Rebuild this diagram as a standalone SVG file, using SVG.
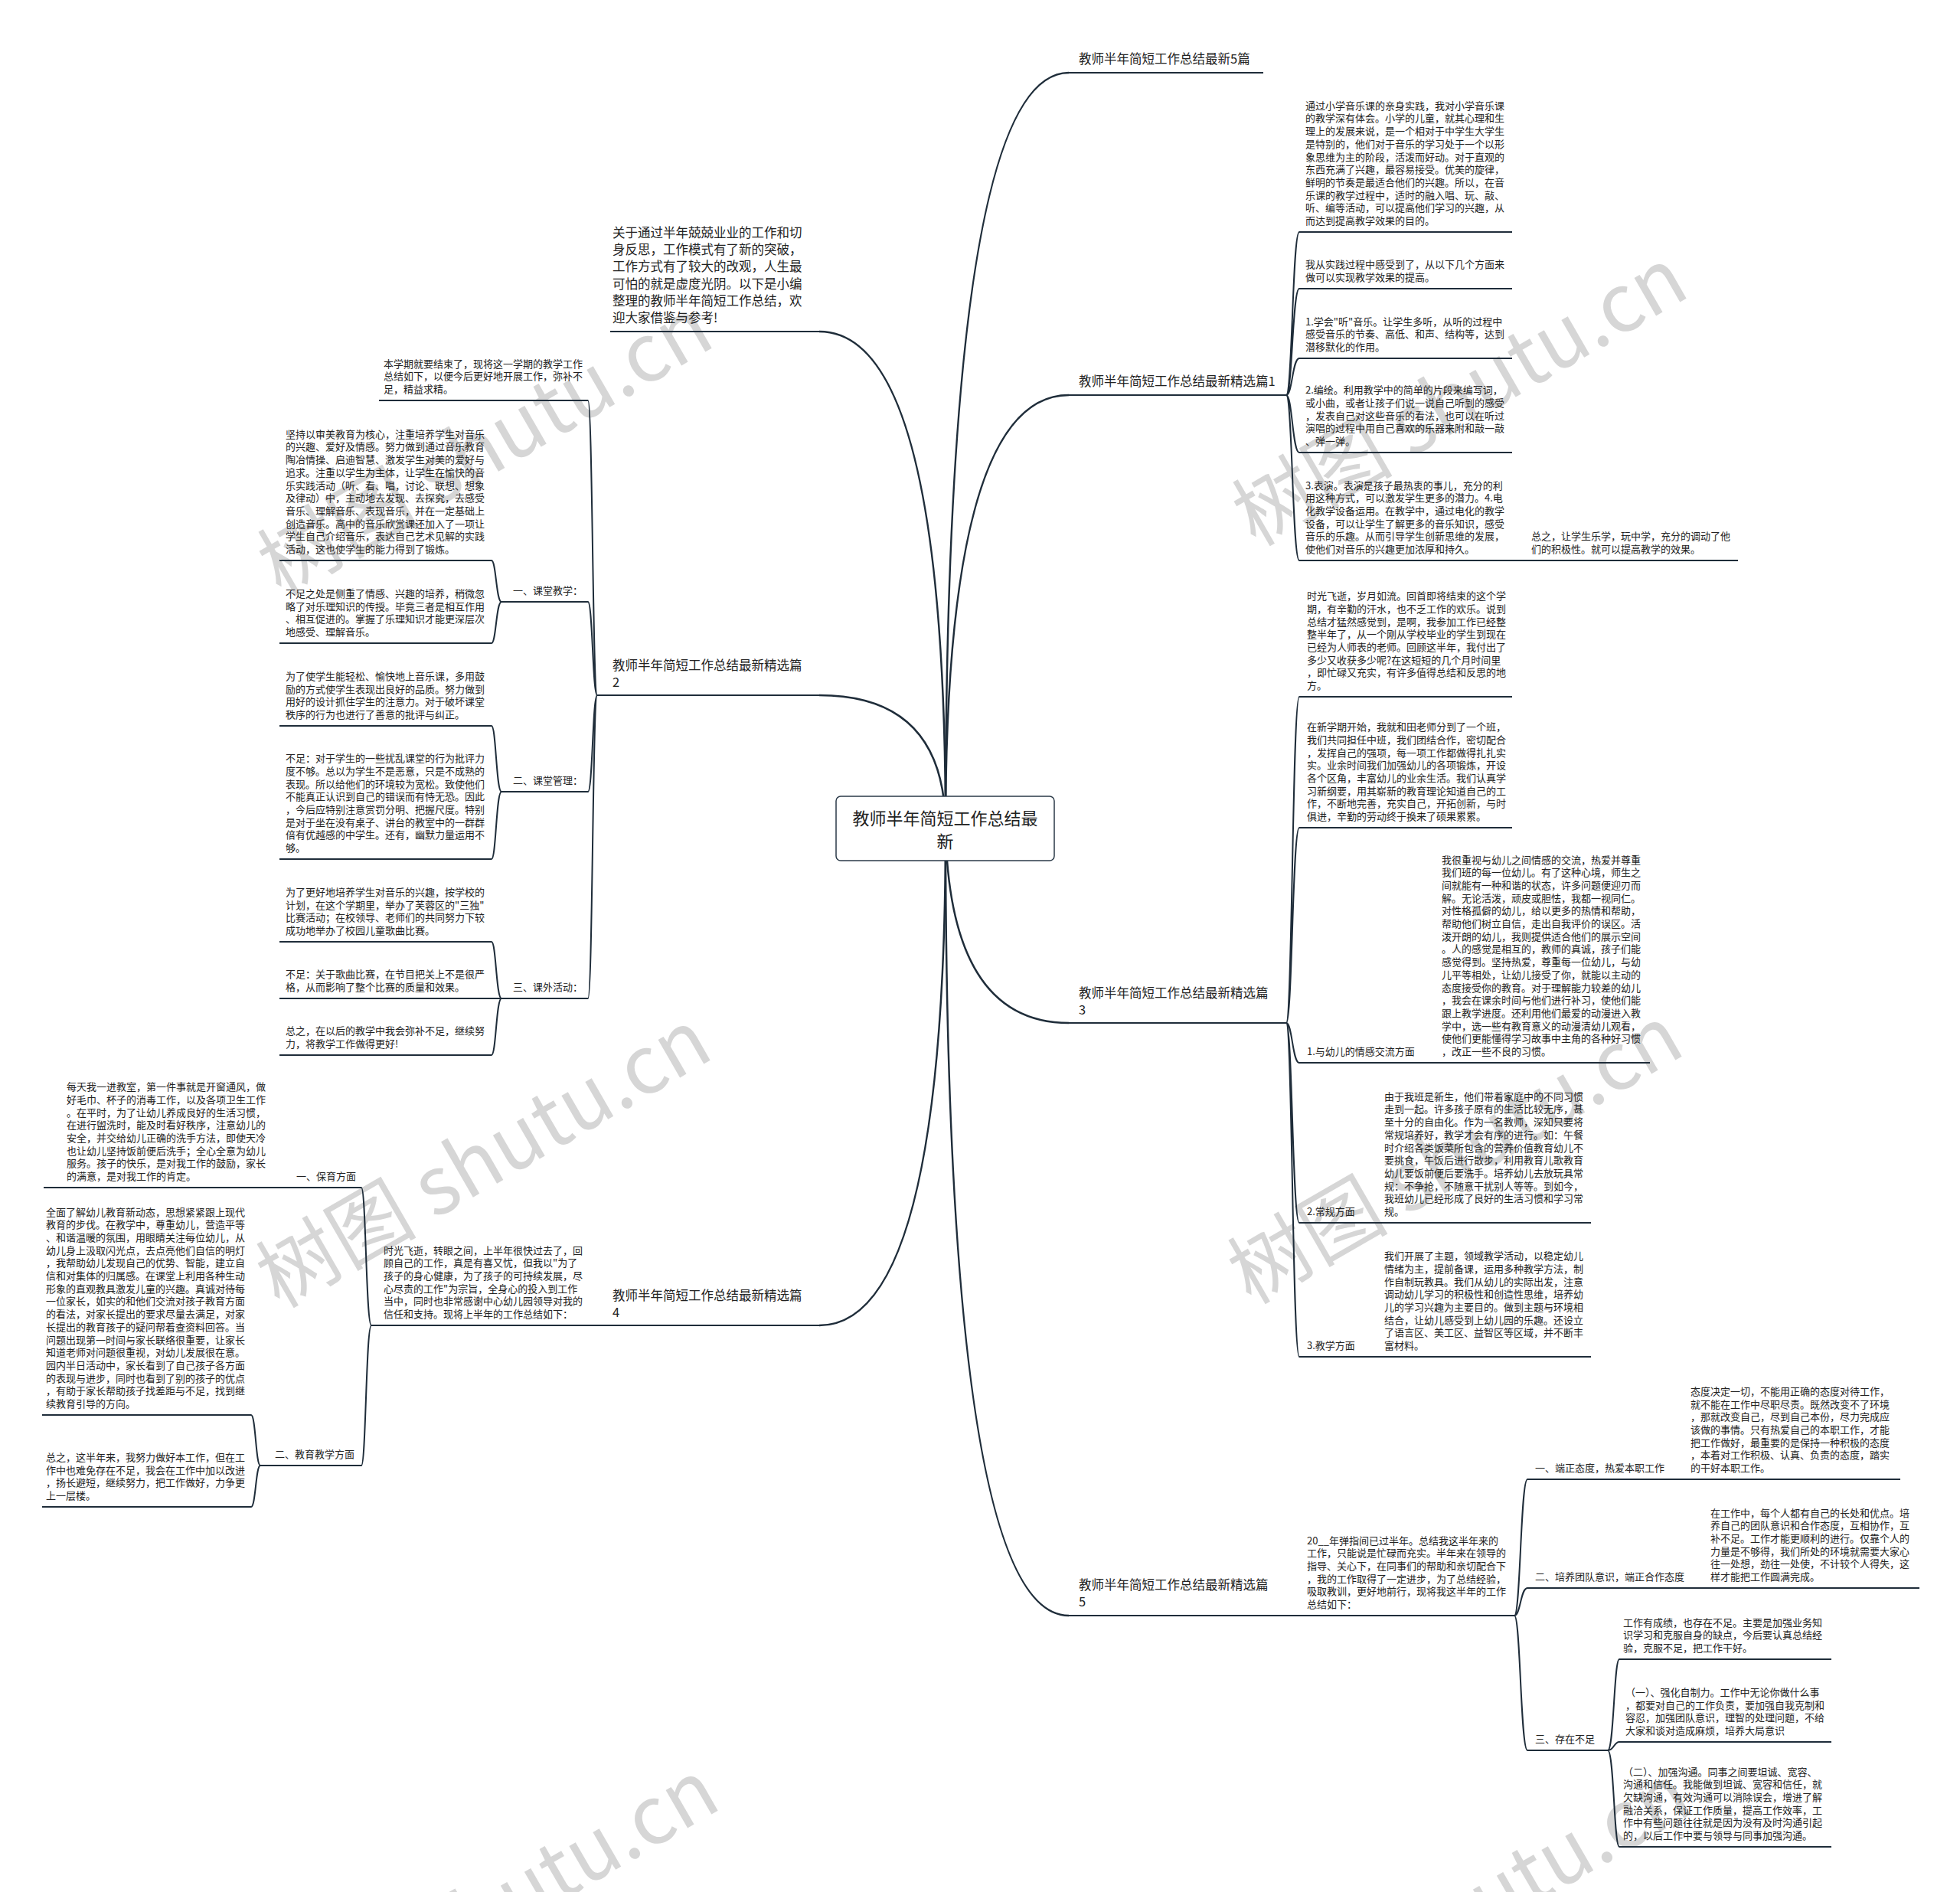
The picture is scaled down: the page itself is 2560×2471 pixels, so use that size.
<svg xmlns="http://www.w3.org/2000/svg" width="2560" height="2471" viewBox="0 0 2560 2471">
<style>
.t{font-family:"Noto Sans CJK SC","Noto Sans",sans-serif;font-size:13px;fill:#222}
.b{font-size:16.5px}
.r{font-size:22px;text-anchor:middle}
.wm{font-family:"Noto Sans CJK SC","Noto Sans",sans-serif;font-size:105px;fill:#d6d6d6;text-anchor:middle}
.ln{stroke:#1f2d3a;stroke-width:2;fill:none}
.cn{stroke:#1f2d3a;stroke-width:2.5;fill:none}
</style>
<rect width="2560" height="2471" fill="#fff"/>
<g id="watermarks">
<text class="wm" transform="translate(652,615) rotate(-30)">树图 shutu.cn</text>
<text class="wm" transform="translate(1925,550) rotate(-30)">树图 shutu.cn</text>
<text class="wm" transform="translate(650,1545) rotate(-30)">树图 shutu.cn</text>
<text class="wm" transform="translate(1919,1540) rotate(-30)">树图 shutu.cn</text>
<text class="wm" transform="translate(660,2525) rotate(-30)">树图 shutu.cn</text>
<text class="wm" transform="translate(1930,2530) rotate(-30)">树图 shutu.cn</text>
</g>
<g id="connectors">
<path class="cn" d="M1235,1082 Q1235,95 1396,95"/>
<path class="cn" d="M1235,1082 Q1235,516 1396,516"/>
<path class="cn" d="M1235,1082 Q1240,1336 1396,1336"/>
<path class="cn" d="M1235,1082 Q1235,2110 1396,2110"/>
<path class="cn" d="M1235,1082 Q1235,433 1070,433"/>
<path class="cn" d="M1235,1082 Q1235,908 1070,908"/>
<path class="cn" d="M1235,1082 Q1235,1731 1070,1731"/>
<path class="ln" d="M1680,516 C1688,516 1688,303 1697,303 M1680,516 C1688,516 1688,377 1697,377 M1680,516 C1688,516 1688,468 1697,468 M1680,516 C1688,516 1688,591 1697,591 M1680,516 C1688,516 1688,732 1697,732"/>
<path class="ln" d="M1680,1336 C1688,1336 1688,910 1697,910 M1680,1336 C1688,1336 1688,1081 1697,1081 M1680,1336 C1688,1336 1688,1388 1697,1388 M1680,1336 C1688,1336 1688,1597 1697,1597 M1680,1336 C1688,1336 1688,1772 1697,1772"/>
<path class="ln" d="M1978,2110 C1986,2110 1986,1932 1995,1932 M1978,2110 C1986,2110 1986,2074 1995,2074 M1978,2110 C1986,2110 1986,2286 1995,2286"/>
<path class="ln" d="M2100,2286 C2108,2286 2108,2167 2115,2167 M2100,2286 C2108,2286 2108,2275 2115,2275 M2100,2286 C2108,2286 2108,2412 2115,2412"/>
<path class="ln" d="M780,908 C774,908 774,523 768,523 M780,908 C774,908 774,786 768,786 M780,908 C774,908 774,1034 768,1034 M780,908 C774,908 774,1304 768,1304"/>
<path class="ln" d="M655,786 C648,786 648,732 642,732 M655,786 C648,786 648,840 642,840"/>
<path class="ln" d="M655,1034 C648,1034 648,948 642,948 M655,1034 C648,1034 648,1122 642,1122"/>
<path class="ln" d="M655,1304 C648,1304 648,1230 642,1230 M655,1304 L642,1304 M655,1304 C648,1304 648,1378 642,1378"/>
<path class="ln" d="M485,1731 C478,1731 478,1551 472,1551 M485,1731 C478,1731 478,1914 472,1914"/>
<path class="ln" d="M340,1914 C334,1914 334,1848 328,1848 M340,1914 C334,1914 334,1968 328,1968"/>
</g>
<g id="root">
<rect x="1092" y="1040" width="285" height="84" rx="6" fill="#fff" stroke="#2b3a48" stroke-width="1.5"/>
<text class="t r" x="1234.5" y="1077">教师半年简短工作总结最</text>
<text class="t r" x="1234.5" y="1107">新</text>
</g>
<g id="b1">
<line class="ln" x1="1396" y1="95" x2="1650" y2="95"/>
<text class="t b" x="1409" y="83">教师半年简短工作总结最新5篇</text>
</g>
<g id="b2">
<line class="ln" x1="1396" y1="516" x2="1680" y2="516"/>
<text class="t b" x="1409" y="504">教师半年简短工作总结最新精选篇1</text>
</g>
<g id="r2a">
<line class="ln" x1="1697" y1="303" x2="1975" y2="303"/>
<text class="t" x="1705" y="142.7"><tspan x="1705">通过小学音乐课的亲身实践，我对小学音乐课</tspan><tspan x="1705" dy="16.7">的教学深有体会。小学的儿童，就其心理和生</tspan><tspan x="1705" dy="16.7">理上的发展来说，是一个相对于中学生大学生</tspan><tspan x="1705" dy="16.7">是特别的，他们对于音乐的学习处于一个以形</tspan><tspan x="1705" dy="16.7">象思维为主的阶段，活泼而好动。对于直观的</tspan><tspan x="1705" dy="16.7">东西充满了兴趣，最容易接受。优美的旋律，</tspan><tspan x="1705" dy="16.7">鲜明的节奏是最适合他们的兴趣。所以，在音</tspan><tspan x="1705" dy="16.7">乐课的教学过程中，适时的融入唱、玩、敲、</tspan><tspan x="1705" dy="16.7">听、编等活动，可以提高他们学习的兴趣，从</tspan><tspan x="1705" dy="16.7">而达到提高教学效果的目的。</tspan></text>
</g>
<g id="r2b">
<line class="ln" x1="1697" y1="377" x2="1975" y2="377"/>
<text class="t" x="1705" y="350.3"><tspan x="1705">我从实践过程中感受到了，从以下几个方面来</tspan><tspan x="1705" dy="16.7">做可以实现教学效果的提高。</tspan></text>
</g>
<g id="r2c">
<line class="ln" x1="1697" y1="468" x2="1975" y2="468"/>
<text class="t" x="1705" y="424.6"><tspan x="1705">1.学会"听"音乐。让学生多听，从听的过程中</tspan><tspan x="1705" dy="16.7">感受音乐的节奏、高低、和声、结构等，达到</tspan><tspan x="1705" dy="16.7">潜移默化的作用。</tspan></text>
</g>
<g id="r2d">
<line class="ln" x1="1697" y1="591" x2="1975" y2="591"/>
<text class="t" x="1705" y="514.2"><tspan x="1705">2.编绘。利用教学中的简单的片段来编写词，</tspan><tspan x="1705" dy="16.7">或小曲，或者让孩子们说一说自己听到的感受</tspan><tspan x="1705" dy="16.7">，发表自己对这些音乐的看法，也可以在听过</tspan><tspan x="1705" dy="16.7">演唱的过程中用自己喜欢的乐器来附和敲一敲</tspan><tspan x="1705" dy="16.7">、弹一弹。</tspan></text>
</g>
<g id="r2e">
<line class="ln" x1="1697" y1="732" x2="1975" y2="732"/>
<text class="t" x="1705" y="638.5"><tspan x="1705">3.表演。表演是孩子最热衷的事儿，充分的利</tspan><tspan x="1705" dy="16.7">用这种方式，可以激发学生更多的潜力。4.电</tspan><tspan x="1705" dy="16.7">化教学设备运用。在教学中，通过电化的教学</tspan><tspan x="1705" dy="16.7">设备，可以让学生了解更多的音乐知识，感受</tspan><tspan x="1705" dy="16.7">音乐的乐趣。从而引导学生创新思维的发展，</tspan><tspan x="1705" dy="16.7">使他们对音乐的兴趣更加浓厚和持久。</tspan></text>
</g>
<g id="r2f">
<line class="ln" x1="1975" y1="732" x2="2270" y2="732"/>
<text class="t" x="2000" y="705.3"><tspan x="2000">总之，让学生乐学，玩中学，充分的调动了他</tspan><tspan x="2000" dy="16.7">们的积极性。就可以提高教学的效果。</tspan></text>
</g>
<g id="b3">
<line class="ln" x1="1396" y1="1336" x2="1680" y2="1336"/>
<text class="t b" x="1409" y="1303"><tspan x="1409">教师半年简短工作总结最新精选篇</tspan><tspan x="1409" dy="22">3</tspan></text>
</g>
<g id="r3a">
<line class="ln" x1="1697" y1="910" x2="1975" y2="910"/>
<text class="t" x="1707" y="783.1"><tspan x="1707">时光飞逝，岁月如流。回首即将结束的这个学</tspan><tspan x="1707" dy="16.7">期，有辛勤的汗水，也不乏工作的欢乐。说到</tspan><tspan x="1707" dy="16.7">总结才猛然感觉到，是啊，我参加工作已经整</tspan><tspan x="1707" dy="16.7">整半年了，从一个刚从学校毕业的学生到现在</tspan><tspan x="1707" dy="16.7">已经为人师表的老师。回顾这半年，我付出了</tspan><tspan x="1707" dy="16.7">多少又收获多少呢?在这短短的几个月时间里</tspan><tspan x="1707" dy="16.7">，即忙碌又充实，有许多值得总结和反思的地</tspan><tspan x="1707" dy="16.7">方。</tspan></text>
</g>
<g id="r3b">
<line class="ln" x1="1697" y1="1081" x2="1975" y2="1081"/>
<text class="t" x="1707" y="954.1"><tspan x="1707">在新学期开始，我就和田老师分到了一个班，</tspan><tspan x="1707" dy="16.7">我们共同担任中班，我们团结合作，密切配合</tspan><tspan x="1707" dy="16.7">，发挥自己的强项，每一项工作都做得扎扎实</tspan><tspan x="1707" dy="16.7">实。业余时间我们加强幼儿的各项锻炼，开设</tspan><tspan x="1707" dy="16.7">各个区角，丰富幼儿的业余生活。我们认真学</tspan><tspan x="1707" dy="16.7">习新纲要，用其崭新的教育理论知道自己的工</tspan><tspan x="1707" dy="16.7">作，不断地完善，充实自己，开拓创新，与时</tspan><tspan x="1707" dy="16.7">俱进，辛勤的劳动终于换来了硕果累累。</tspan></text>
</g>
<g id="r3c">
<line class="ln" x1="1697" y1="1388" x2="1875" y2="1388"/>
<text class="t" x="1707" y="1378">1.与幼儿的情感交流方面</text>
</g>
<g id="r3c1">
<line class="ln" x1="1875" y1="1388" x2="2155" y2="1388"/>
<text class="t" x="1883" y="1127.5"><tspan x="1883">我很重视与幼儿之间情感的交流，热爱并尊重</tspan><tspan x="1883" dy="16.7">我们班的每一位幼儿。有了这种心境，师生之</tspan><tspan x="1883" dy="16.7">间就能有一种和谐的状态，许多问题便迎刃而</tspan><tspan x="1883" dy="16.7">解。无论活泼，顽皮或胆怯，我都一视同仁。</tspan><tspan x="1883" dy="16.7">对性格孤僻的幼儿，给以更多的热情和帮助，</tspan><tspan x="1883" dy="16.7">帮助他们树立自信，走出自我评价的误区。活</tspan><tspan x="1883" dy="16.7">泼开朗的幼儿，我则提供适合他们的展示空间</tspan><tspan x="1883" dy="16.7">。人的感觉是相互的，教师的真诚，孩子们能</tspan><tspan x="1883" dy="16.7">感觉得到。坚持热爱，尊重每一位幼儿，与幼</tspan><tspan x="1883" dy="16.7">儿平等相处，让幼儿接受了你，就能以主动的</tspan><tspan x="1883" dy="16.7">态度接受你的教育。对于理解能力较差的幼儿</tspan><tspan x="1883" dy="16.7">，我会在课余时间与他们进行补习，使他们能</tspan><tspan x="1883" dy="16.7">跟上教学进度。还利用他们最爱的动漫进入教</tspan><tspan x="1883" dy="16.7">学中，选一些有教育意义的动漫清幼儿观看，</tspan><tspan x="1883" dy="16.7">使他们更能懂得学习故事中主角的各种好习惯</tspan><tspan x="1883" dy="16.7">，改正一些不良的习惯。</tspan></text>
</g>
<g id="r3d">
<line class="ln" x1="1697" y1="1597" x2="1800" y2="1597"/>
<text class="t" x="1707" y="1587">2.常规方面</text>
</g>
<g id="r3d1">
<line class="ln" x1="1800" y1="1597" x2="2078" y2="1597"/>
<text class="t" x="1808" y="1436.7"><tspan x="1808">由于我班是新生，他们带着家庭中的不同习惯</tspan><tspan x="1808" dy="16.7">走到一起。许多孩子原有的生活比较无序，甚</tspan><tspan x="1808" dy="16.7">至十分的自由化。作为一名教师，深知只要将</tspan><tspan x="1808" dy="16.7">常规培养好，教学才会有序的进行。如：午餐</tspan><tspan x="1808" dy="16.7">时介绍各类饭菜所包含的营养价值教育幼儿不</tspan><tspan x="1808" dy="16.7">要挑食，午饭后进行散步，利用教育儿歌教育</tspan><tspan x="1808" dy="16.7">幼儿要饭前便后要洗手。培养幼儿去放玩具常</tspan><tspan x="1808" dy="16.7">规：不争抢，不随意干扰别人等等。到如今，</tspan><tspan x="1808" dy="16.7">我班幼儿已经形成了良好的生活习惯和学习常</tspan><tspan x="1808" dy="16.7">规。</tspan></text>
</g>
<g id="r3e">
<line class="ln" x1="1697" y1="1772" x2="1800" y2="1772"/>
<text class="t" x="1707" y="1762">3.教学方面</text>
</g>
<g id="r3e1">
<line class="ln" x1="1800" y1="1772" x2="2078" y2="1772"/>
<text class="t" x="1808" y="1645.1"><tspan x="1808">我们开展了主题，领域教学活动，以稳定幼儿</tspan><tspan x="1808" dy="16.7">情绪为主，提前备课，运用多种教学方法，制</tspan><tspan x="1808" dy="16.7">作自制玩教具。我们从幼儿的实际出发，注意</tspan><tspan x="1808" dy="16.7">调动幼儿学习的积极性和创造性思维，培养幼</tspan><tspan x="1808" dy="16.7">儿的学习兴趣为主要目的。做到主题与环境相</tspan><tspan x="1808" dy="16.7">结合，让幼儿感受到上幼儿园的乐趣。还设立</tspan><tspan x="1808" dy="16.7">了语言区、美工区、益智区等区域，并不断丰</tspan><tspan x="1808" dy="16.7">富材料。</tspan></text>
</g>
<g id="b5">
<line class="ln" x1="1396" y1="2110" x2="1697" y2="2110"/>
<text class="t b" x="1409" y="2076"><tspan x="1409">教师半年简短工作总结最新精选篇</tspan><tspan x="1409" dy="22">5</tspan></text>
</g>
<g id="b5i">
<line class="ln" x1="1697" y1="2110" x2="1978" y2="2110"/>
<text class="t" x="1707" y="2016.5"><tspan x="1707">20__年弹指间已过半年。总结我这半年来的</tspan><tspan x="1707" dy="16.7">工作，只能说是忙碌而充实。半年来在领导的</tspan><tspan x="1707" dy="16.7">指导、关心下，在同事们的帮助和亲切配合下</tspan><tspan x="1707" dy="16.7">，我的工作取得了一定进步，为了总结经验，</tspan><tspan x="1707" dy="16.7">吸取教训，更好地前行，现将我这半年的工作</tspan><tspan x="1707" dy="16.7">总结如下：</tspan></text>
</g>
<g id="r51">
<line class="ln" x1="1995" y1="1932" x2="2200" y2="1932"/>
<text class="t" x="2005" y="1922">一、端正态度，热爱本职工作</text>
</g>
<g id="r51t">
<line class="ln" x1="2200" y1="1932" x2="2482" y2="1932"/>
<text class="t" x="2208" y="1821.8"><tspan x="2208">态度决定一切，不能用正确的态度对待工作，</tspan><tspan x="2208" dy="16.7">就不能在工作中尽职尽责。既然改变不了环境</tspan><tspan x="2208" dy="16.7">，那就改变自己，尽到自己本份，尽力完成应</tspan><tspan x="2208" dy="16.7">该做的事情。只有热爱自己的本职工作，才能</tspan><tspan x="2208" dy="16.7">把工作做好，最重要的是保持一种积极的态度</tspan><tspan x="2208" dy="16.7">，本着对工作积极、认真、负责的态度，踏实</tspan><tspan x="2208" dy="16.7">的干好本职工作。</tspan></text>
</g>
<g id="r52">
<line class="ln" x1="1995" y1="2074" x2="2228" y2="2074"/>
<text class="t" x="2005" y="2064">二、培养团队意识，端正合作态度</text>
</g>
<g id="r52t">
<line class="ln" x1="2228" y1="2074" x2="2507" y2="2074"/>
<text class="t" x="2234" y="1980.5"><tspan x="2234">在工作中，每个人都有自己的长处和优点。培</tspan><tspan x="2234" dy="16.7">养自己的团队意识和合作态度，互相协作，互</tspan><tspan x="2234" dy="16.7">补不足。工作才能更顺利的进行。仅靠个人的</tspan><tspan x="2234" dy="16.7">力量是不够得，我们所处的环境就需要大家心</tspan><tspan x="2234" dy="16.7">往一处想，劲往一处使，不计较个人得失，这</tspan><tspan x="2234" dy="16.7">样才能把工作圆满完成。</tspan></text>
</g>
<g id="r53">
<line class="ln" x1="1995" y1="2286" x2="2100" y2="2286"/>
<text class="t" x="2005" y="2276">三、存在不足</text>
</g>
<g id="r53a">
<line class="ln" x1="2115" y1="2167" x2="2392" y2="2167"/>
<text class="t" x="2120" y="2123.6"><tspan x="2120">工作有成绩，也存在不足。主要是加强业务知</tspan><tspan x="2120" dy="16.7">识学习和克服自身的缺点，今后要认真总结经</tspan><tspan x="2120" dy="16.7">验，克服不足，把工作干好。</tspan></text>
</g>
<g id="r53b">
<line class="ln" x1="2115" y1="2275" x2="2392" y2="2275"/>
<text class="t" x="2123" y="2214.9"><tspan x="2123">（一）、强化自制力。工作中无论你做什么事</tspan><tspan x="2123" dy="16.7">，都要对自己的工作负责，要加强自我克制和</tspan><tspan x="2123" dy="16.7">容忍，加强团队意识，理智的处理问题，不给</tspan><tspan x="2123" dy="16.7">大家和谈对造成麻烦，培养大局意识</tspan></text>
</g>
<g id="r53c">
<line class="ln" x1="2115" y1="2412" x2="2392" y2="2412"/>
<text class="t" x="2120" y="2318.5"><tspan x="2120">（二）、加强沟通。同事之间要坦诚、宽容、</tspan><tspan x="2120" dy="16.7">沟通和信任。我能做到坦诚、宽容和信任，就</tspan><tspan x="2120" dy="16.7">欠缺沟通，有效沟通可以消除误会，增进了解</tspan><tspan x="2120" dy="16.7">融洽关系，保证工作质量，提高工作效率，工</tspan><tspan x="2120" dy="16.7">作中有些问题往往就是因为没有及时沟通引起</tspan><tspan x="2120" dy="16.7">的，以后工作中要与领导与同事加强沟通。</tspan></text>
</g>
<g id="intro">
<line class="ln" x1="797" y1="433" x2="1070" y2="433"/>
<text class="t b" x="800" y="310"><tspan x="800">关于通过半年兢兢业业的工作和切</tspan><tspan x="800" dy="22.2">身反思，工作模式有了新的突破，</tspan><tspan x="800" dy="22.2">工作方式有了较大的改观，人生最</tspan><tspan x="800" dy="22.2">可怕的就是虚度光阴。以下是小编</tspan><tspan x="800" dy="22.2">整理的教师半年简短工作总结，欢</tspan><tspan x="800" dy="22.2">迎大家借鉴与参考!</tspan></text>
</g>
<g id="b2l">
<line class="ln" x1="780" y1="908" x2="1070" y2="908"/>
<text class="t b" x="800" y="875"><tspan x="800">教师半年简短工作总结最新精选篇</tspan><tspan x="800" dy="22">2</tspan></text>
</g>
<g id="l2top">
<line class="ln" x1="495" y1="523" x2="768" y2="523"/>
<text class="t" x="501" y="479.6"><tspan x="501">本学期就要结束了，现将这一学期的教学工作</tspan><tspan x="501" dy="16.7">总结如下，以便今后更好地开展工作，弥补不</tspan><tspan x="501" dy="16.7">足，精益求精。</tspan></text>
</g>
<g id="l2s1">
<line class="ln" x1="655" y1="786" x2="768" y2="786"/>
<text class="t" x="670" y="776">一、课堂教学：</text>
</g>
<g id="l2a">
<line class="ln" x1="365" y1="732" x2="642" y2="732"/>
<text class="t" x="373" y="571.7"><tspan x="373">坚持以审美教育为核心，注重培养学生对音乐</tspan><tspan x="373" dy="16.7">的兴趣、爱好及情感。努力做到通过音乐教育</tspan><tspan x="373" dy="16.7">陶冶情操、启迪智慧、激发学生对美的爱好与</tspan><tspan x="373" dy="16.7">追求。注重以学生为主体，让学生在愉快的音</tspan><tspan x="373" dy="16.7">乐实践活动（听、看、唱，讨论、联想、想象</tspan><tspan x="373" dy="16.7">及律动）中，主动地去发现、去探究，去感受</tspan><tspan x="373" dy="16.7">音乐、理解音乐、表现音乐，并在一定基础上</tspan><tspan x="373" dy="16.7">创造音乐。高中的音乐欣赏课还加入了一项让</tspan><tspan x="373" dy="16.7">学生自己介绍音乐，表达自己艺术见解的实践</tspan><tspan x="373" dy="16.7">活动，这也使学生的能力得到了锻炼。</tspan></text>
</g>
<g id="l2b">
<line class="ln" x1="365" y1="840" x2="642" y2="840"/>
<text class="t" x="373" y="779.9"><tspan x="373">不足之处是侧重了情感、兴趣的培养，稍微忽</tspan><tspan x="373" dy="16.7">略了对乐理知识的传授。毕竟三者是相互作用</tspan><tspan x="373" dy="16.7">、相互促进的。掌握了乐理知识才能更深层次</tspan><tspan x="373" dy="16.7">地感受、理解音乐。</tspan></text>
</g>
<g id="l2s2">
<line class="ln" x1="655" y1="1034" x2="768" y2="1034"/>
<text class="t" x="670" y="1024">二、课堂管理：</text>
</g>
<g id="l2c">
<line class="ln" x1="365" y1="948" x2="642" y2="948"/>
<text class="t" x="373" y="887.9"><tspan x="373">为了使学生能轻松、愉快地上音乐课，多用鼓</tspan><tspan x="373" dy="16.7">励的方式使学生表现出良好的品质。努力做到</tspan><tspan x="373" dy="16.7">用好的设计抓住学生的注意力。对于破坏课堂</tspan><tspan x="373" dy="16.7">秩序的行为也进行了善意的批评与纠正。</tspan></text>
</g>
<g id="l2d">
<line class="ln" x1="365" y1="1122" x2="642" y2="1122"/>
<text class="t" x="373" y="995.1"><tspan x="373">不足：对于学生的一些扰乱课堂的行为批评力</tspan><tspan x="373" dy="16.7">度不够。总以为学生不是恶意，只是不成熟的</tspan><tspan x="373" dy="16.7">表现。所以给他们的环境较为宽松。致使他们</tspan><tspan x="373" dy="16.7">不能真正认识到自己的错误而有恃无恐。因此</tspan><tspan x="373" dy="16.7">，今后应特别注意赏罚分明、把握尺度。特别</tspan><tspan x="373" dy="16.7">是对于坐在没有桌子、讲台的教室中的一群群</tspan><tspan x="373" dy="16.7">倍有优越感的中学生。还有，幽默力量运用不</tspan><tspan x="373" dy="16.7">够。</tspan></text>
</g>
<g id="l2s3">
<line class="ln" x1="655" y1="1304" x2="768" y2="1304"/>
<text class="t" x="670" y="1294">三、课外活动：</text>
</g>
<g id="l2e">
<line class="ln" x1="365" y1="1230" x2="642" y2="1230"/>
<text class="t" x="373" y="1169.9"><tspan x="373">为了更好地培养学生对音乐的兴趣，按学校的</tspan><tspan x="373" dy="16.7">计划，在这个学期里，举办了芙蓉区的"三独"</tspan><tspan x="373" dy="16.7">比赛活动；在校领导、老师们的共同努力下较</tspan><tspan x="373" dy="16.7">成功地举办了校园儿童歌曲比赛。</tspan></text>
</g>
<g id="l2f">
<line class="ln" x1="365" y1="1304" x2="642" y2="1304"/>
<text class="t" x="373" y="1277.3"><tspan x="373">不足：关于歌曲比赛，在节目把关上不是很严</tspan><tspan x="373" dy="16.7">格，从而影响了整个比赛的质量和效果。</tspan></text>
</g>
<g id="l2g">
<line class="ln" x1="365" y1="1378" x2="642" y2="1378"/>
<text class="t" x="373" y="1351.3"><tspan x="373">总之，在以后的教学中我会弥补不足，继续努</tspan><tspan x="373" dy="16.7">力，将教学工作做得更好!</tspan></text>
</g>
<g id="b4l">
<line class="ln" x1="768" y1="1731" x2="1070" y2="1731"/>
<text class="t b" x="800" y="1698"><tspan x="800">教师半年简短工作总结最新精选篇</tspan><tspan x="800" dy="22">4</tspan></text>
</g>
<g id="b4i">
<line class="ln" x1="485" y1="1731" x2="768" y2="1731"/>
<text class="t" x="501" y="1637.5"><tspan x="501">时光飞逝，转眼之间，上半年很快过去了，回</tspan><tspan x="501" dy="16.7">顾自己的工作，真是有喜又忧，但我以"为了</tspan><tspan x="501" dy="16.7">孩子的身心健康，为了孩子的可持续发展，尽</tspan><tspan x="501" dy="16.7">心尽责的工作"为宗旨，全身心的投入到工作</tspan><tspan x="501" dy="16.7">当中，同时也非常感谢中心幼儿园领导对我的</tspan><tspan x="501" dy="16.7">信任和支持。现将上半年的工作总结如下：</tspan></text>
</g>
<g id="l4s1">
<line class="ln" x1="350" y1="1551" x2="472" y2="1551"/>
<text class="t" x="387" y="1541">一、保育方面</text>
</g>
<g id="l4a">
<line class="ln" x1="57" y1="1551" x2="350" y2="1551"/>
<text class="t" x="87" y="1424.1"><tspan x="87">每天我一进教室，第一件事就是开窗通风，做</tspan><tspan x="87" dy="16.7">好毛巾、杯子的消毒工作，以及各项卫生工作</tspan><tspan x="87" dy="16.7">。在平时，为了让幼儿养成良好的生活习惯，</tspan><tspan x="87" dy="16.7">在进行盥洗时，能及时看好秩序，注意幼儿的</tspan><tspan x="87" dy="16.7">安全，并交给幼儿正确的洗手方法，即使天冷</tspan><tspan x="87" dy="16.7">也让幼儿坚持饭前便后洗手；全心全意为幼儿</tspan><tspan x="87" dy="16.7">服务。孩子的快乐，是对我工作的鼓励，家长</tspan><tspan x="87" dy="16.7">的满意，是对我工作的肯定。</tspan></text>
</g>
<g id="l4s2">
<line class="ln" x1="340" y1="1914" x2="472" y2="1914"/>
<text class="t" x="359" y="1904">二、教育教学方面</text>
</g>
<g id="l4b">
<line class="ln" x1="55" y1="1848" x2="328" y2="1848"/>
<text class="t" x="60" y="1587.5"><tspan x="60">全面了解幼儿教育新动态，思想紧紧跟上现代</tspan><tspan x="60" dy="16.7">教育的步伐。在教学中，尊重幼儿，营造平等</tspan><tspan x="60" dy="16.7">、和谐温暖的氛围，用眼睛关注每位幼儿，从</tspan><tspan x="60" dy="16.7">幼儿身上汲取闪光点，去点亮他们自信的明灯</tspan><tspan x="60" dy="16.7">，我帮助幼儿发现自己的优势、智能，建立自</tspan><tspan x="60" dy="16.7">信和对集体的归属感。在课堂上利用各种生动</tspan><tspan x="60" dy="16.7">形象的直观教具激发儿童的兴趣。真诚对待每</tspan><tspan x="60" dy="16.7">一位家长，如实的和他们交流对孩子教育方面</tspan><tspan x="60" dy="16.7">的看法，对家长提出的要求尽量去满足，对家</tspan><tspan x="60" dy="16.7">长提出的教育孩子的疑问帮着查资料回答。当</tspan><tspan x="60" dy="16.7">问题出现第一时间与家长联络很重要，让家长</tspan><tspan x="60" dy="16.7">知道老师对问题很重视，对幼儿发展很在意。</tspan><tspan x="60" dy="16.7">园内半日活动中，家长看到了自己孩子各方面</tspan><tspan x="60" dy="16.7">的表现与进步，同时也看到了别的孩子的优点</tspan><tspan x="60" dy="16.7">，有助于家长帮助孩子找差距与不足，找到继</tspan><tspan x="60" dy="16.7">续教育引导的方向。</tspan></text>
</g>
<g id="l4c">
<line class="ln" x1="55" y1="1968" x2="328" y2="1968"/>
<text class="t" x="60" y="1907.9"><tspan x="60">总之，这半年来，我努力做好本工作，但在工</tspan><tspan x="60" dy="16.7">作中也难免存在不足，我会在工作中加以改进</tspan><tspan x="60" dy="16.7">，扬长避短，继续努力，把工作做好，力争更</tspan><tspan x="60" dy="16.7">上一层楼。</tspan></text>
</g>
</svg>
